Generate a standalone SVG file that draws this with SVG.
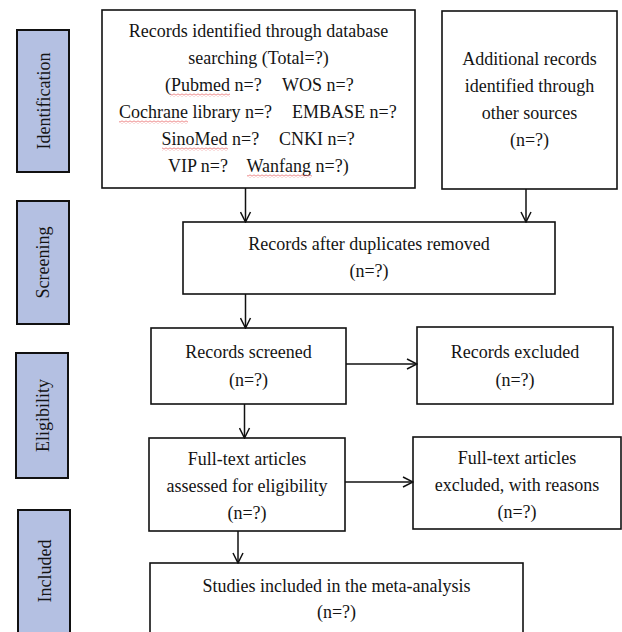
<svg xmlns="http://www.w3.org/2000/svg" width="622" height="632" viewBox="0 0 622 632">
<style>
  .box{fill:#fff;stroke:#111;stroke-width:1.6}
  .side{fill:#b4c0e2;stroke:#111;stroke-width:2}
  text{font-family:"Liberation Serif","Times New Roman",serif;font-size:18px;fill:#141414}
  .c{text-anchor:middle}
  .conn{stroke:#111;stroke-width:1.5;fill:none}
  .sq{fill:url(#squig)}
</style>
<defs>
  <marker id="arr" viewBox="0 0 12 12" refX="11" refY="6" markerWidth="12" markerHeight="12" markerUnits="userSpaceOnUse" orient="auto">
    <path d="M1,1 L11,6 L1,11" fill="none" stroke="#111" stroke-width="1.5"/>
  </marker>
  <pattern id="squig" width="4" height="3" patternUnits="userSpaceOnUse">
    <path d="M0,2.5 L2,0.5 L4,2.5" fill="none" stroke="#e23b3b" stroke-width="0.8"/>
  </pattern>
</defs>
<rect width="622" height="632" fill="#fff"/>

<g id="stage-identification">
  <rect class="side" x="17" y="30" width="52" height="142"/>
  <text class="c" transform="translate(50,101) rotate(-90)">Identification</text>
</g>
<g id="stage-screening">
  <rect class="side" x="17" y="201" width="52" height="123"/>
  <text class="c" transform="translate(49,262.5) rotate(-90)">Screening</text>
</g>
<g id="stage-eligibility">
  <rect class="side" x="16" y="353" width="52" height="125"/>
  <text class="c" transform="translate(48.5,415.5) rotate(-90)">Eligibility</text>
</g>
<g id="stage-included">
  <rect class="side" x="18" y="510" width="52" height="130"/>
  <text class="c" transform="translate(51,571) rotate(-90)">Included</text>
</g>

<g id="node-database">
  <rect class="box" x="102" y="10" width="313" height="178"/>
  <text class="c" x="258.5" y="37">Records identified through database</text>
  <text class="c" x="258.5" y="64">searching (Total=?)</text>
  <text x="165" y="91">(Pubmed n=?</text>
  <text x="282" y="91">WOS n=?</text>
  <text x="119" y="118">Cochrane library n=?</text>
  <text x="292" y="118">EMBASE n=?</text>
  <text x="161.5" y="145">SinoMed n=?</text>
  <text x="279" y="145">CNKI n=?</text>
  <text x="168" y="172">VIP n=?</text>
  <text x="246.5" y="172">Wanfang n=?)</text>
  <rect class="sq" x="170" y="93.5" width="60" height="3"/>
  <rect class="sq" x="119" y="120.5" width="69" height="3"/>
  <rect class="sq" x="162" y="147.5" width="66" height="3"/>
  <rect class="sq" x="247" y="174.5" width="65" height="3"/>
</g>

<g id="node-other">
  <rect class="box" x="442" y="11" width="175" height="178"/>
  <text class="c" x="529.5" y="65">Additional records</text>
  <text class="c" x="529.5" y="92">identified through</text>
  <text class="c" x="529.5" y="119">other sources</text>
  <text class="c" x="529.5" y="146">(n=?)</text>
</g>

<g id="node-duplicates">
  <rect class="box" x="183" y="222" width="372" height="72"/>
  <text class="c" x="369" y="250">Records after duplicates removed</text>
  <text class="c" x="369" y="277">(n=?)</text>
</g>

<g id="node-screened">
  <rect class="box" x="151" y="328" width="195" height="76"/>
  <text class="c" x="248.5" y="358">Records screened</text>
  <text class="c" x="248.5" y="386">(n=?)</text>
</g>

<g id="node-excluded">
  <rect class="box" x="417" y="327" width="196" height="77"/>
  <text class="c" x="515" y="358">Records excluded</text>
  <text class="c" x="515" y="386">(n=?)</text>
</g>

<g id="node-fulltext">
  <rect class="box" x="149" y="438" width="196" height="93"/>
  <text class="c" x="247" y="465">Full-text articles</text>
  <text class="c" x="247" y="492">assessed for eligibility</text>
  <text class="c" x="247" y="519">(n=?)</text>
</g>

<g id="node-fulltext-excluded">
  <rect class="box" x="413" y="437" width="208" height="92"/>
  <text class="c" x="517" y="464">Full-text articles</text>
  <text class="c" x="517" y="491">excluded, with reasons</text>
  <text class="c" x="517" y="518">(n=?)</text>
</g>

<g id="node-included">
  <rect class="box" x="150" y="563" width="373" height="80"/>
  <text class="c" x="336.5" y="592">Studies included in the meta-analysis</text>
  <text class="c" x="336.5" y="618">(n=?)</text>
</g>

<g id="connectors">
  <line class="conn" x1="245.5" y1="188" x2="245.5" y2="222" marker-end="url(#arr)"/>
  <line class="conn" x1="526" y1="189" x2="526" y2="222" marker-end="url(#arr)"/>
  <line class="conn" x1="245.5" y1="294" x2="245.5" y2="328" marker-end="url(#arr)"/>
  <line class="conn" x1="346" y1="364" x2="417" y2="364" marker-end="url(#arr)"/>
  <line class="conn" x1="244.5" y1="404" x2="244.5" y2="438" marker-end="url(#arr)"/>
  <line class="conn" x1="345" y1="482" x2="413" y2="482" marker-end="url(#arr)"/>
  <line class="conn" x1="238" y1="531" x2="238" y2="563" marker-end="url(#arr)"/>
</g>
</svg>
